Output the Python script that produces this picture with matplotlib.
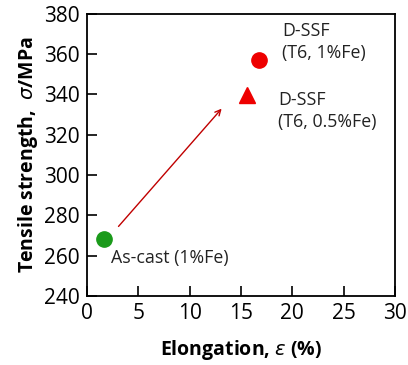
import matplotlib.pyplot as plt

# data
elong = [1.7, 15.6, 16.8]
strength = [268.5, 339.5, 357]
colors = ["#1a9a1a", "#ee0000", "#ee0000"]
markers = ["o", "^", "o"]
labels = ["As-cast (1%Fe)", "D-SSF\n(T6, 0.5%Fe)", "D-SSF\n(T6, 1%Fe)"]
label_xy = [(2.3, 259), (18.6, 332), (19.0, 366)]
arrow_start = (2.9, 273.5)
arrow_end = (13.3, 334)

plt.rcParams['font.family'] = ['Open Sans', 'DejaVu Sans']

fig = plt.figure(figsize=(4.08, 3.65), dpi=100)
ax = fig.add_axes([0.213, 0.189, 0.755, 0.773])

for x, y, c, m in zip(elong, strength, colors, markers):
    ax.plot(x, y, marker=m, color=c, markersize=11, linestyle="none")

for (tx, ty), t in zip(label_xy, labels):
    ax.text(tx, ty, t, fontsize=12.8, color="#222222", va="center", ha="left", linespacing=1.3)

ax.annotate("", xy=arrow_end, xytext=arrow_start,
            arrowprops=dict(arrowstyle="->", color="#c00000", lw=1.0))

ax.set_xlim(0, 30)
ax.set_ylim(240, 380)
ax.set_xticks(range(0, 31, 5))
ax.set_yticks(range(240, 381, 20))
ax.tick_params(direction="in", length=7, width=1.2, labelsize=15, pad=5)
for s in ax.spines.values():
    s.set_linewidth(1.3)

ax.set_xlabel(r"Elongation, $\varepsilon$ (%)", fontsize=14, fontweight="bold", labelpad=10)
ax.set_ylabel(r"Tensile strength,  $\sigma$/MPa", fontsize=14, fontweight="bold", labelpad=3)

fig.savefig("out.png", dpi=100)
